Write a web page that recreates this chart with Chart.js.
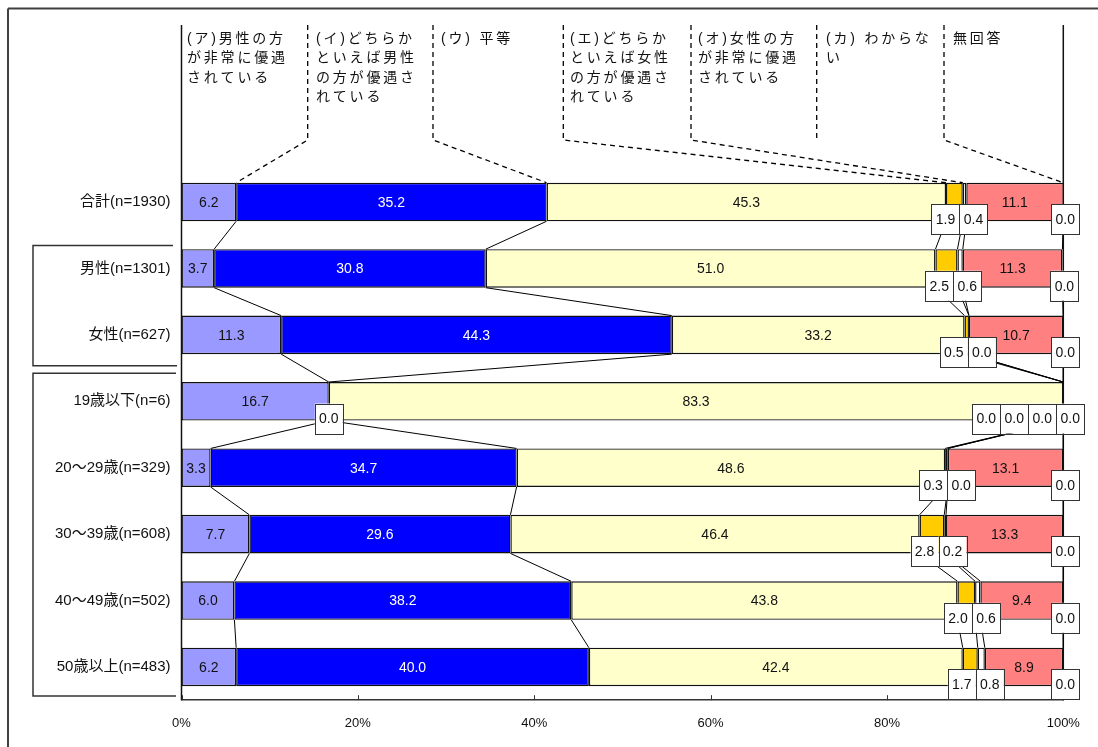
<!DOCTYPE html>
<html lang="ja">
<head>
<meta charset="utf-8">
<title>男女の地位の平等感</title>
<script src="https://cdn.jsdelivr.net/npm/chart.js@4/dist/chart.umd.min.js"></script>
<style>
  html, body { margin: 0; padding: 0; background: #fff; }
  canvas { display: block; }
</style>
</head>
<body>
<canvas id="grafico" width="1098" height="747"></canvas>
<script>
// categorias (linhas) e valores de cada resposta, em %
const categorias = ['合計(n=1930)', '男性(n=1301)', '女性(n=627)', '19歳以下(n=6)', '20～29歳(n=329)', '30～39歳(n=608)', '40～49歳(n=502)', '50歳以上(n=483)'];
const respostas = ['(ア)男性の方が非常に優遇されている', '(イ)どちらかといえば男性の方が優遇されている', '(ウ) 平等', '(エ)どちらかといえば女性の方が優遇されている', '(オ)女性の方が非常に優遇されている', '(カ) わからない', '無回答'];

const danseiHijou     = [6.2, 3.7, 11.3, 16.7, 3.3, 7.7, 6.0, 6.2];
const dochirakaDansei = [35.2, 30.8, 44.3, 0.0, 34.7, 29.6, 38.2, 40.0];
const byoudou         = [45.3, 51.0, 33.2, 83.3, 48.6, 46.4, 43.8, 42.4];
const dochirakaJosei  = [1.9, 2.5, 0.5, 0.0, 0.3, 2.8, 2.0, 1.7];
const joseiHijou      = [0.4, 0.6, 0.0, 0.0, 0.0, 0.2, 0.6, 0.8];
const wakaranai       = [11.1, 11.3, 10.7, 0.0, 13.1, 13.3, 9.4, 8.9];
const mukaitou        = [0.0, 0.0, 0.0, 0.0, 0.0, 0.0, 0.0, 0.0];

const ticksX = [0, 20, 40, 60, 80, 100];

// cabeçalhos das colunas, quebrados em linhas
const cabecalhos = [
  ['(ア)男性の方', 'が非常に優遇', 'されている'],
  ['(イ)どちらか', 'といえば男性', 'の方が優遇さ', 'れている'],
  ['(ウ) 平等'],
  ['(エ)どちらか', 'といえば女性', 'の方が優遇さ', 'れている'],
  ['(オ)女性の方', 'が非常に優遇', 'されている'],
  ['(カ) わからな', 'い'],
  ['無回答']
];

const FONTE = '"Liberation Sans", "Noto Sans CJK JP", sans-serif';
const cores = ['#9999FF', '#0000FF', '#FFFFCC', '#FFCC00', '#FFFFFF', '#FF8080', '#FFFFFF'];

// posição das colunas do cabeçalho
const linhaCabX = [null, 307.7, 433, 563.3, 691, 816.7, 944];
const textoCabX = [187, 316, 441, 570, 698, 826, 953];
const destinoCab = [null, 0, 1, 2, 3, null, 5];

const series = [danseiHijou, dochirakaDansei, byoudou, dochirakaJosei, joseiHijou, wakaranai, mukaitou];

function linha(ctx, x1, y1, x2, y2) {
  ctx.beginPath();
  ctx.moveTo(x1, y1);
  ctx.lineTo(x2, y2);
  ctx.stroke();
}

const desenho = {
  id: 'desenho',
  afterDatasetsDraw(chart) {
    const ctx = chart.ctx;
    const area = chart.chartArea;
    const xs = chart.scales.x;
    const metas = series.map((s, k) => chart.getDatasetMeta(k));
    const limita = v => Math.min(area.right, Math.max(area.left, v));
    const fim = (k, i) => limita(metas[k].data[i].x);
    const ini = (k, i) => limita(metas[k].data[i].base);
    const cy = i => metas[0].data[i].y;
    const alt = metas[0].data[0].height;
    const topo = i => cy(i) - alt / 2;
    const baixo = i => cy(i) + alt / 2;

    ctx.save();

    // moldura externa
    ctx.strokeStyle = '#404040';
    ctx.lineWidth = 2;
    linha(ctx, 8, 8.5, 1098, 8.5);
    linha(ctx, 8, 8.5, 8, 747);

    // eixo esquerdo e linha de 100%
    ctx.strokeStyle = '#111';
    ctx.lineWidth = 1.5;
    linha(ctx, area.left, 25, area.left, area.bottom);
    linha(ctx, area.right, 25, area.right, area.bottom);

    // cabeçalho
    ctx.fillStyle = '#111';
    ctx.font = '14px ' + FONTE;
    ctx.textAlign = 'left';
    ctx.textBaseline = 'middle';
    ctx.letterSpacing = '2.8px';
    cabecalhos.forEach((linhas, c) => {
      linhas.forEach((t, j) => ctx.fillText(t, textoCabX[c], 39 + j * 19.5));
    });
    ctx.letterSpacing = '0px';

    // linhas tracejadas do cabeçalho até a barra do total
    ctx.strokeStyle = '#000';
    ctx.lineWidth = 1.3;
    ctx.setLineDash([5, 4]);
    linhaCabX.forEach((x, c) => {
      if (x === null) return;
      ctx.beginPath();
      ctx.moveTo(x, 25);
      ctx.lineTo(x, 140);
      if (destinoCab[c] !== null) ctx.lineTo(fim(destinoCab[c], 0), topo(0));
      ctx.stroke();
    });
    ctx.setLineDash([]);

    // colchetes de sexo e idade
    ctx.strokeStyle = '#333';
    ctx.lineWidth = 1.5;
    [[1, 2, -23, 31, 173, 177], [3, 7, -28, 29, 176, 176]].forEach(([a, b, da, db, xa, xb]) => {
      const y1 = cy(a) + da, y2 = cy(b) + db;
      ctx.beginPath();
      ctx.moveTo(xa, y1);
      ctx.lineTo(33, y1);
      ctx.lineTo(33, y2);
      ctx.lineTo(xb, y2);
      ctx.stroke();
    });

    // linhas de ligação entre as barras
    ctx.strokeStyle = '#000';
    ctx.lineWidth = 1;
    for (let i = 0; i < categorias.length - 1; i++) {
      for (let k = 0; k < series.length - 1; k++) {
        linha(ctx, fim(k, i), baixo(i), fim(k, i + 1), topo(i + 1));
      }
    }

    // marcas do eixo x, para dentro
    ctx.strokeStyle = '#333';
    ctx.lineWidth = 1;
    ticksX.forEach(v => {
      const x = Math.round(xs.getPixelForValue(v)) + 0.5;
      linha(ctx, x, area.bottom, x, area.bottom - 5);
    });

    // rótulos dentro das barras
    ctx.font = '14px ' + FONTE;
    ctx.textAlign = 'center';
    ctx.textBaseline = 'middle';
    const caixas = categorias.map(() => []);
    series.forEach((s, k) => {
      s.forEach((v, i) => {
        const centro = (ini(k, i) + fim(k, i)) / 2;
        if (v >= 3) {
          ctx.fillStyle = k === 1 ? '#fff' : '#111';
          ctx.fillText(v.toFixed(1), centro, cy(i) + 1);
        } else {
          caixas[i].push({ k, v, x: centro });
        }
      });
    });

    // valores pequenos em caixas abaixo da barra, afastados entre si
    const W = 28, H = 30;
    caixas.forEach((lista, i) => {
      lista.sort((a, b) => a.x - b.x || a.k - b.k);
      for (let it = 0; it < 60; it++) {
        for (let j = 1; j < lista.length; j++) {
          const d = lista[j].x - lista[j - 1].x;
          if (d < W) {
            const m = (W - d) / 2;
            lista[j - 1].x -= m;
            lista[j].x += m;
          }
        }
      }
      const n = lista.length;
      if (n) {
        lista[n - 1].x = Math.min(lista[n - 1].x + 2, area.right + 7);
        for (let j = n - 2; j >= 0; j--) lista[j].x = Math.min(lista[j].x, lista[j + 1].x - W);
      }
      lista.slice().sort((a, b) => a.k - b.k).forEach(c => {
        const y = baixo(i) - 2;
        ctx.fillStyle = '#fff';
        ctx.strokeStyle = '#333';
        ctx.lineWidth = 1;
        ctx.fillRect(c.x - W / 2, y - H / 2, W, H);
        ctx.strokeRect(Math.round(c.x - W / 2) + 0.5, Math.round(y - H / 2) + 0.5, W, H);
        ctx.fillStyle = '#111';
        ctx.fillText(c.v.toFixed(1), c.x, y + 1);
      });
    });

    ctx.restore();
  }
};

Chart.defaults.font.family = FONTE;

function montarGrafico() {
  const ctx = document.getElementById('grafico').getContext('2d');
  new Chart(ctx, {
    type: 'bar',
    data: {
      labels: categorias,
      datasets: series.map((s, k) => ({
        label: respostas[k],
        data: s,
        backgroundColor: cores[k],
        borderColor: '#111',
        borderWidth: c => (c.raw > 0 ? 1.4 : 0),
        borderSkipped: false,
        barPercentage: 0.58,
        categoryPercentage: 1
      }))
    },
    options: {
      indexAxis: 'y',
      responsive: false,
      animation: false,
      events: [],
      layout: { padding: { top: 168.8, right: 34.7, left: 0, bottom: 0 } },
      scales: {
        x: {
          stacked: true,
          min: 0,
          max: 100,
          afterBuildTicks: s => { s.ticks = ticksX.map(v => ({ value: v })); },
          ticks: { callback: v => v + '%', color: '#111', font: { size: 13 }, padding: 15, maxRotation: 0 },
          grid: { display: false, drawTicks: false },
          border: { display: true, color: '#333', width: 1.5 },
          afterFit: s => { s.height = 46.8; }
        },
        y: {
          stacked: true,
          ticks: { color: '#111', font: { size: 15 }, padding: 11 },
          grid: { display: false, drawTicks: false },
          border: { display: false },
          afterFit: s => { s.width = 181.5; }
        }
      },
      plugins: {
        legend: { display: false },
        tooltip: { enabled: false }
      }
    },
    plugins: [desenho]
  });
}

window.onload = montarGrafico;
</script>
</body>
</html>
